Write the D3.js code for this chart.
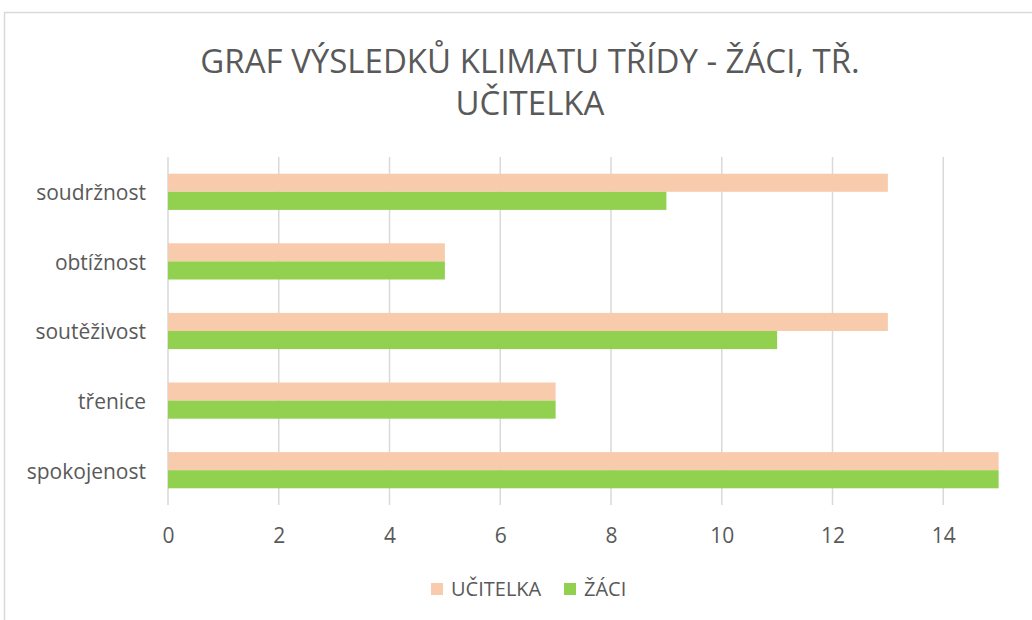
<!DOCTYPE html>
<html>
<head>
<meta charset="utf-8">
<script src="https://cdn.jsdelivr.net/npm/d3@7"></script>
<style>
  body { margin: 0; background: #fff; }
  svg { display: block; font-family: "Open Sans", "Lato", sans-serif; }
</style>
</head>
<body>
<div class="chart"></div>
<script>
// data
let categories = ["soudržnost", "obtížnost", "soutěživost", "třenice", "spokojenost"];
let seriesNames = ["UČITELKA", "ŽÁCI"];
let ucitelka = [13, 5, 13, 7, 15];
let zaci = [9, 5, 11, 7, 15];
let xTicks = [0, 2, 4, 6, 8, 10, 12, 14];
let colors = ["#F8CBAD", "#92D050"];

let W = 1032, H = 620;
let margin = {top: 157, left: 168, bottom: 505, right: 1054};

let svg = d3.select(".chart").append("svg")
    .attr("width", W)
    .attr("height", H);

// chart border (cropped on right / bottom)
svg.append("rect")
    .attr("x", 4.5).attr("y", 12.5)
    .attr("width", 1100).attr("height", 700)
    .attr("fill", "none")
    .attr("stroke", "#d9d9d9")
    .attr("stroke-width", 1.5);

// title
let title = svg.append("text")
    .attr("text-anchor", "middle")
    .attr("fill", "#595959")
    .style("font-size", "33px");
title.append("tspan").attr("x", 530).attr("y", 73).text("GRAF VÝSLEDKŮ KLIMATU TŘÍDY - ŽÁCI, TŘ.");
title.append("tspan").attr("x", 530).attr("y", 115).text("UČITELKA");

let x = d3.scaleLinear()
    .domain([0, 16])
    .range([margin.left, margin.right]);

let y = d3.scaleBand()
    .domain(categories)
    .range([margin.top, margin.bottom])
    .paddingInner(0.48)
    .paddingOuter(0.24);

let ySub = d3.scaleBand()
    .domain(seriesNames)
    .range([0, y.bandwidth()]);

// gridlines
svg.append("g")
    .selectAll("line")
    .data(xTicks)
    .enter()
    .append("line")
    .attr("x1", d => x(d)).attr("x2", d => x(d))
    .attr("y1", margin.top).attr("y2", margin.bottom)
    .attr("stroke", "#d9d9d9")
    .attr("stroke-width", 1.5);

// x axis labels
let xAxis = svg.append("g")
    .attr("transform", "translate(0," + margin.bottom + ")")
    .call(d3.axisBottom(x).tickValues(xTicks).tickSize(0).tickPadding(23));
xAxis.select(".domain").remove();
xAxis.selectAll("text")
    .attr("fill", "#595959")
    .style("font-size", "21px")
    .style("font-family", "'Open Sans', sans-serif");

// y axis labels
let yAxis = svg.append("g")
    .attr("transform", "translate(" + margin.left + ",0)")
    .call(d3.axisLeft(y).tickSize(0).tickPadding(22));
yAxis.select(".domain").remove();
yAxis.selectAll("text")
    .attr("fill", "#595959")
    .attr("dy", "0.4em")
    .style("font-size", "21px")
    .style("font-family", "'Open Sans', sans-serif");

// bars
let rows = categories.map((c, i) => ({cat: c, values: [ucitelka[i], zaci[i]]}));

svg.append("g")
    .selectAll("g")
    .data(rows)
    .enter()
    .append("g")
    .attr("transform", d => "translate(0," + y(d.cat) + ")")
    .selectAll("rect")
    .data(d => d.values.map((v, j) => ({name: seriesNames[j], value: v, color: colors[j]})))
    .enter()
    .append("rect")
    .attr("x", x(0))
    .attr("y", d => ySub(d.name))
    .attr("width", d => x(d.value) - x(0))
    .attr("height", ySub.bandwidth())
    .attr("fill", d => d.color);

// legend
let legendX = [431, 564];
let legend = svg.append("g")
    .selectAll("g")
    .data(seriesNames)
    .enter()
    .append("g")
    .attr("transform", (d, i) => "translate(" + legendX[i] + ",583)");
legend.append("rect")
    .attr("width", 12).attr("height", 12)
    .attr("fill", (d, i) => colors[i]);
legend.append("text")
    .attr("x", 20).attr("y", 6)
    .attr("dy", "0.36em")
    .attr("fill", "#595959")
    .style("font-size", "20px")
    .text(d => d);
</script>
</body>
</html>
